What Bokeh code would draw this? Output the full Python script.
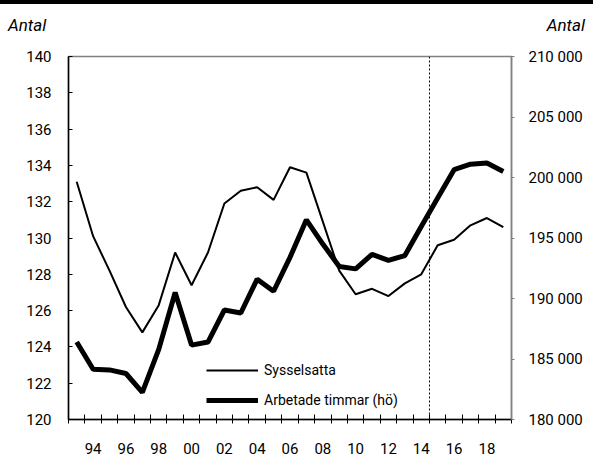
from bokeh.plotting import figure
from bokeh.models import (Range1d, LinearAxis, FixedTicker, Span, Legend, LegendItem, Div)
from bokeh.layouts import column
from bokeh.embed import file_html
from bokeh.resources import INLINE

years = list(range(1993, 2020))
sysselsatta = [133.1, 130.1, 128.2, 126.2, 124.8, 126.3, 129.2, 127.4, 129.2, 131.9,
               132.6, 132.8, 132.1, 133.9, 133.6, 130.9, 128.2, 126.9, 127.2, 126.8,
               127.5, 128.0, 129.6, 129.9, 130.7, 131.1, 130.6]
arbetade_timmar = [186400, 184150, 184100, 183800, 182250, 185800, 190500, 186150, 186400, 189050,
                   188800, 191600, 190600, 193400, 196500, 194500, 192650, 192450, 193650, 193150,
                   193550, 195950, 198300, 200650, 201100, 201200, 200500]
left_ticks = [120, 122, 124, 126, 128, 130, 132, 134, 136, 138, 140]
right_ticks = [180000, 185000, 190000, 195000, 200000, 205000, 210000]
right_tick_labels = ["180 000", "185 000", "190 000", "195 000", "200 000", "205 000", "210 000"]
x_label_years = list(range(1994, 2019, 2))
x_tick_labels = ["%02d" % (y % 100) for y in x_label_years]
forecast_start = 2014.5
unit_left = "Antal"
unit_right = "Antal"

FONT = "Roboto"
HEADER_H = 40

header = Div(text=(
    '<div style="position:relative;width:585px;height:%dpx;font-family:Roboto;'
    'font-style:italic;font-size:17px;color:black;">'
    '<div style="position:absolute;left:0px;top:0px;width:593px;height:4px;background:black;"></div>'
    '<span style="position:absolute;left:8px;top:13px;">%s</span>'
    '<span style="position:absolute;right:0px;top:13px;">%s</span></div>'
) % (HEADER_H, unit_left, unit_right), width=585, height=HEADER_H, margin=0)

p = figure(width=585, height=457 - HEADER_H, x_range=Range1d(1992.5, 2019.5), y_range=Range1d(120, 140),
           output_backend="svg", toolbar_location=None, margin=0,
           min_border_left=68, min_border_right=74, min_border_top=56 - HEADER_H, min_border_bottom=38)
p.extra_y_ranges = {"right": Range1d(180000, 210000)}

p.xgrid.visible = False
p.ygrid.visible = False
p.outline_line_color = "#808080"
p.outline_line_width = 1.5

# x axis
xa = p.xaxis[0]
xa.ticker = FixedTicker(ticks=x_label_years,
                        minor_ticks=[y + 0.5 for y in range(1992, 2020)])
xa.major_label_overrides = {y: l for y, l in zip(x_label_years, x_tick_labels)}
xa.major_tick_in = 0
xa.major_tick_out = 0
xa.minor_tick_in = 5
xa.minor_tick_out = 4
xa.minor_tick_line_color = "black"
xa.axis_line_color = "black"
xa.axis_line_width = 1.5
xa.major_label_standoff = 19
xa.major_label_text_font = FONT
xa.major_label_text_font_size = "15px"
xa.major_label_text_color = "black"

# left axis
ya = p.yaxis[0]
ya.ticker = FixedTicker(ticks=left_ticks)
ya.major_tick_in = 4
ya.major_tick_out = 0
ya.minor_tick_in = 0
ya.minor_tick_out = 0
ya.axis_line_color = "black"
ya.axis_line_width = 1.5
ya.major_tick_line_color = "black"
ya.major_label_standoff = 17
ya.major_label_text_font = FONT
ya.major_label_text_font_size = "15px"
ya.major_label_text_color = "black"

# right axis
ra = LinearAxis(y_range_name="right", ticker=FixedTicker(ticks=right_ticks))
ra.major_label_overrides = {t: l for t, l in zip(right_ticks, right_tick_labels)}
ra.major_tick_in = 0
ra.major_tick_out = 3
ra.minor_tick_in = 0
ra.minor_tick_out = 0
ra.axis_line_color = "#808080"
ra.axis_line_width = 1.5
ra.major_tick_line_color = "#808080"
ra.major_label_standoff = 14
ra.major_label_text_font = FONT
ra.major_label_text_font_size = "15px"
ra.major_label_text_color = "black"
p.add_layout(ra, "right")

# forecast divider
p.add_layout(Span(location=forecast_start, dimension="height", line_color="black",
                  line_width=1, line_dash="2 2"))

r1 = p.line(years, sysselsatta, line_color="black", line_width=2)
r2 = p.line(years, arbetade_timmar, line_color="black", line_width=5, y_range_name="right")

legend = Legend(items=[LegendItem(label="Sysselsatta", renderers=[r1]),
                       LegendItem(label="Arbetade timmar (hö)", renderers=[r2])],
                location=(138, 9), orientation="vertical",
                glyph_width=52, glyph_height=20, spacing=10, padding=0, margin=0,
                label_standoff=6, label_text_font=FONT, label_text_font_size="14px",
                label_text_color="black", border_line_alpha=0, background_fill_alpha=0)
p.add_layout(legend, "center")

layout = column(header, p, spacing=0, margin=0)
open("out.html", "w").write(file_html(layout, INLINE))
